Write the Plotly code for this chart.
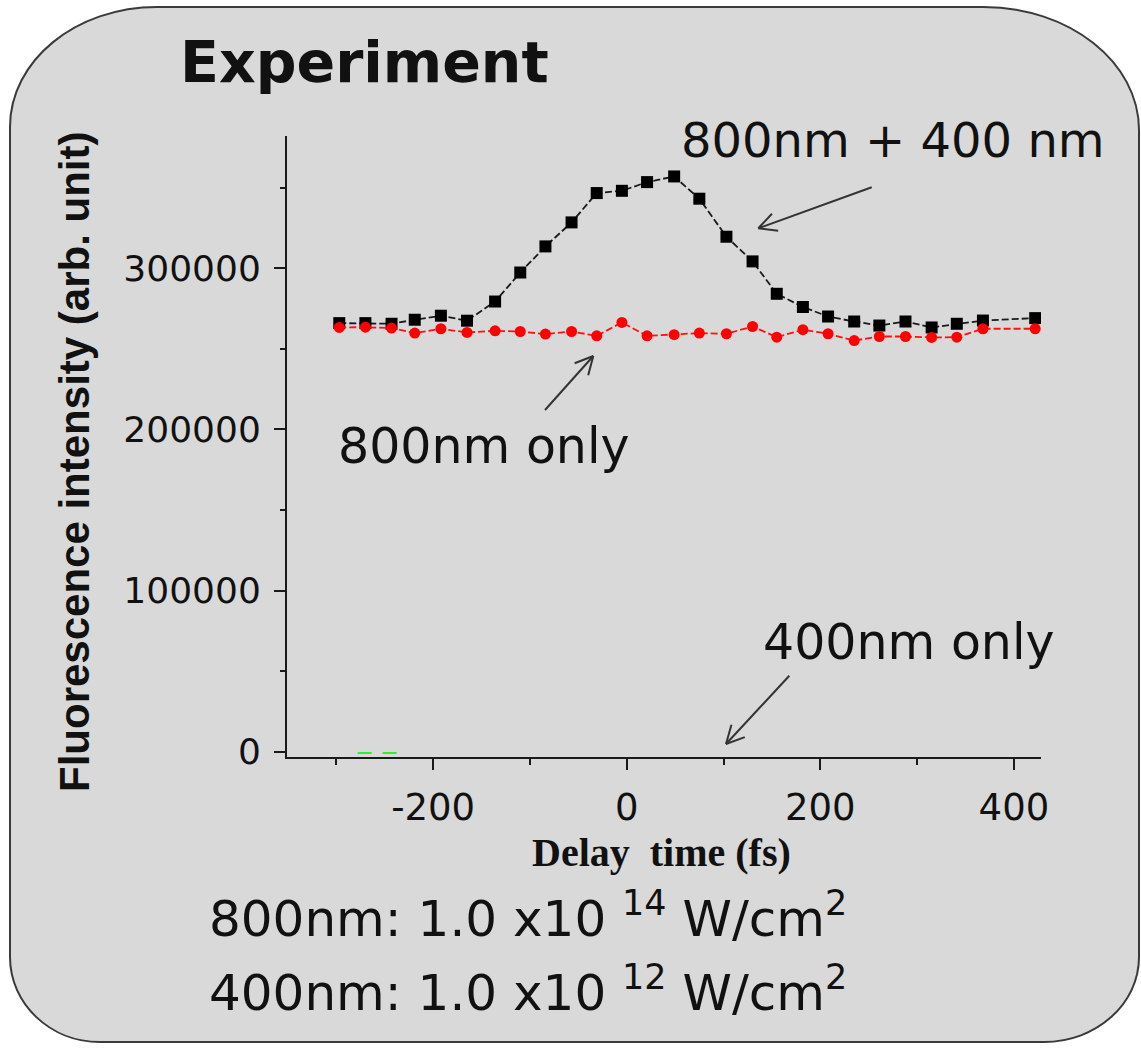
import math
import plotly.graph_objects as go

# ---------------- data ----------------
delay_fs = [-297, -270, -243, -219, -192, -165, -136, -110, -84, -57, -31, -5, 21, 49,
            75, 103, 130, 155, 182, 208, 235, 261, 288, 315, 341, 368, 422]
both_pulses = [265900, 265900, 265500, 268000, 270500, 267400, 279300, 297300, 313500,
               328400, 346600, 348000, 353400, 356900, 343100, 319500, 304200, 284100,
               275900, 270000, 266900, 264400, 266900, 263200, 265500, 267500, 269000]
only_800 = [263200, 263400, 262800, 259700, 262400, 260100, 261100, 260700, 259100,
            260700, 258000, 266300, 258000, 258700, 259700, 259300, 263800, 257200,
            261800, 259300, 255100, 257600, 257600, 257000, 257200, 262400, 262400]
only_400_x = [-278, -236]
only_400_y = [-800, -800]

x_ticks = [-200, 0, 200, 400]
x_tick_text = ["-200", "0", "200", "400"]
y_ticks = [0, 100000, 200000, 300000]
y_tick_text = ["0", "100000", "200000", "300000"]

# ---------------- layout geometry (pixels) ----------------
FIG_W, FIG_H = 1141, 1050
L, R, T, B = 287, 1041, 136, 757
PW, PH = R - L, B - T


def pp(px, py):
    return (px - L) / PW, (B - py) / PH


fig = go.Figure()

fig.add_trace(go.Scatter(
    x=only_400_x, y=only_400_y, mode="lines",
    line=dict(color="#33ee33", width=2, dash="14px,11px"),
    showlegend=False, hoverinfo="skip"))

fig.add_trace(go.Scatter(
    x=delay_fs, y=both_pulses, mode="lines+markers",
    line=dict(color="#1a1a1a", width=1.8, dash="7px,3px"),
    marker=dict(symbol="square", size=12, color="black"),
    name="800nm + 400 nm", showlegend=False))

fig.add_trace(go.Scatter(
    x=delay_fs, y=only_800, mode="lines+markers",
    line=dict(color="#ff1010", width=1.8, dash="7px,3px"),
    marker=dict(symbol="circle", size=11, color="#ff0000"),
    name="800nm only", showlegend=False))

# ---------------- background rounded panel ----------------
k = 0.5523
Lb, Rb, Tb, Bb = 10, 1139, 7, 1042
tl = (147, 120)
tr = (156, 123)
br = (95, 85)
bl = (90, 85)


def P(px, py):
    x, y = pp(px, py)
    return f"{x:.5f},{y:.5f}"


path = (
    f"M {P(Lb + tl[0], Tb)} L {P(Rb - tr[0], Tb)} "
    f"C {P(Rb - tr[0] + k * tr[0], Tb)} {P(Rb, Tb + tr[1] - k * tr[1])} {P(Rb, Tb + tr[1])} "
    f"L {P(Rb, Bb - br[1])} "
    f"C {P(Rb, Bb - br[1] + k * br[1])} {P(Rb - br[0] + k * br[0], Bb)} {P(Rb - br[0], Bb)} "
    f"L {P(Lb + bl[0], Bb)} "
    f"C {P(Lb + bl[0] - k * bl[0], Bb)} {P(Lb, Bb - bl[1] + k * bl[1])} {P(Lb, Bb - bl[1])} "
    f"L {P(Lb, Tb + tl[1])} "
    f"C {P(Lb, Tb + tl[1] - k * tl[1])} {P(Lb + tl[0] - k * tl[0], Tb)} {P(Lb + tl[0], Tb)} Z"
)

shapes = [dict(type="path", path=path, xref="paper", yref="paper",
               fillcolor="#d9d9d9", line=dict(color="#3a3a3a", width=2), layer="below")]

# ---------------- arrows (tail -> head, pixels) ----------------
arrows = [
    ((871.7, 187.3), (758.3, 228.3)),
    ((545.0, 410.0), (593.3, 356.0)),
    ((789.3, 675.7), (726.0, 744.0)),
]
barb_len, barb_ang = 20, math.radians(27)
for (tx, ty), (hx, hy) in arrows:
    x0, y0 = pp(tx, ty)
    x1, y1 = pp(hx, hy)
    shapes.append(dict(type="line", xref="paper", yref="paper", x0=x0, y0=y0, x1=x1, y1=y1,
                       line=dict(color="#333333", width=2)))
    dx, dy = tx - hx, ty - hy
    n = math.hypot(dx, dy)
    ux, uy = dx / n, dy / n
    for s in (1, -1):
        c, si = math.cos(s * barb_ang), math.sin(s * barb_ang)
        bx = hx + barb_len * (ux * c - uy * si)
        by = hy + barb_len * (ux * si + uy * c)
        bx0, by0 = pp(bx, by)
        shapes.append(dict(type="line", xref="paper", yref="paper", x0=x1, y0=y1, x1=bx0, y1=by0,
                           line=dict(color="#333333", width=2)))

# ---------------- texts ----------------
labels = [
    ("Experiment", 364, 62, "DejaVu Sans", 57, "bold", "center", 0),
    ("800nm + 400 nm", 893, 140, "DejaVu Sans", 48, "normal", "center", 0),
    ("800nm only", 484, 446, "DejaVu Sans", 49, "normal", "center", 0),
    ("400nm only", 909, 642, "DejaVu Sans", 49, "normal", "center", 0),
    ("Fluorescence intensity (arb. unit)", 74, 462, "Liberation Sans", 42, "bold", "center", -90),
    ("Delay  time (fs)", 661, 852, "Liberation Serif", 40, "bold", "center", 0),
    ("800nm: 1.0 x10 <sup>14</sup> W/cm<sup>2</sup>", 207, 915, "DejaVu Sans", 50, "normal", "left", 0),
    ("400nm: 1.0 x10 <sup>12</sup> W/cm<sup>2</sup>", 207, 990, "DejaVu Sans", 50, "normal", "left", 0),
]
annotations = []
for text, px, py, fam, size, weight, anchor, ang in labels:
    x, y = pp(px, py)
    annotations.append(dict(text=text, x=x, y=y, xref="paper", yref="paper", showarrow=False,
                            xanchor=anchor, yanchor="middle", textangle=ang,
                            font=dict(family=fam, size=size, color="#111111", weight=weight)))

fig.update_layout(
    width=FIG_W, height=FIG_H,
    margin=dict(l=L, r=FIG_W - R, t=T, b=FIG_H - B, pad=0),
    paper_bgcolor="white", plot_bgcolor="rgba(0,0,0,0)",
    shapes=shapes, annotations=annotations, showlegend=False,
    xaxis=dict(range=[-351, 428], tickvals=x_ticks, ticktext=x_tick_text,
               showgrid=False, zeroline=False,
               showline=True, linecolor="#1a1a1a", linewidth=2,
               ticks="outside", ticklen=11, tickwidth=2, tickcolor="#1a1a1a",
               ticklabelstandoff=6,
               tickfont=dict(family="DejaVu Sans", size=37, color="#111111"),
               minor=dict(dtick=100, tick0=0, ticks="outside", ticklen=6, tickwidth=2,
                          tickcolor="#1a1a1a", showgrid=False)),
    yaxis=dict(range=[-3300, 382000], tickvals=y_ticks, ticktext=y_tick_text,
               showgrid=False, zeroline=False, showline=True, linecolor="#1a1a1a", linewidth=2,
               ticks="outside", ticklen=11, tickwidth=2, tickcolor="#1a1a1a",
               ticklabelstandoff=6,
               tickfont=dict(family="DejaVu Sans", size=36, color="#111111"),
               minor=dict(dtick=50000, tick0=0, ticks="outside", ticklen=5, tickwidth=2,
                          tickcolor="#1a1a1a", showgrid=False)),
)

fig.write_html("out.html", config={"displayModeBar": False},
               post_script="document.body.style.margin='0';document.body.style.padding='0';")
